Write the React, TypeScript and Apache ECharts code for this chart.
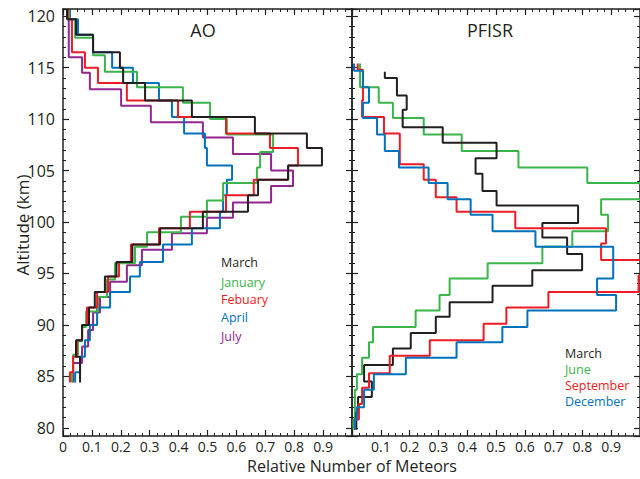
import React, { useEffect, useRef } from 'react';
import * as echarts from 'echarts';

// ---- AO panel (altitude bin edges in km, top-down; values per bin) ----
const aoEdges = [120.6, 119.7, 118.2, 116.5, 115.0, 113.5, 111.8, 110.2, 108.6, 107.2, 105.5, 104.1, 102.6, 101.0, 99.4, 97.8, 96.1, 94.7, 93.2, 91.7, 90.0, 88.5, 86.9, 85.4, 84.4];
const aoGreenEdges = [120.6, 119.7, 117.9, 116.2, 114.6, 113.1, 111.6, 110.0, 108.5, 106.8, 105.3, 103.8, 102.1, 100.5, 99.0, 97.6, 96.0, 94.4, 92.7, 91.3, 89.8, 88.4, 87.1, 85.4, 84.4];
const aoPurpleEdges = [120.6, 116.0, 114.5, 112.9, 111.3, 109.7, 108.2, 106.6, 105.0, 103.5, 101.9, 100.4, 98.9, 97.3, 95.8, 94.2, 92.7, 91.2, 89.5, 87.9, 86.3, 84.4];

const aoMarch = [0.014, 0.045, 0.104, 0.197, 0.208, 0.284, 0.446, 0.664, 0.844, 0.896, 0.779, 0.675, 0.64, 0.484, 0.336, 0.24, 0.185, 0.145, 0.11, 0.09, 0.066, 0.045, 0.059, 0.059];
const aoJanuary = [0.02, 0.042, 0.104, 0.145, 0.256, 0.415, 0.509, 0.567, 0.727, 0.682, 0.671, 0.554, 0.498, 0.408, 0.291, 0.249, 0.18, 0.152, 0.121, 0.08, 0.066, 0.052, 0.035, 0.031];
const aoFebruary = [0.017, 0.031, 0.031, 0.076, 0.121, 0.221, 0.398, 0.564, 0.716, 0.813, 0.779, 0.66, 0.564, 0.439, 0.332, 0.235, 0.194, 0.156, 0.118, 0.083, 0.066, 0.048, 0.035, 0.024];
const aoApril = [0.024, 0.052, 0.104, 0.17, 0.242, 0.332, 0.377, 0.419, 0.491, 0.498, 0.585, 0.567, 0.554, 0.543, 0.446, 0.346, 0.266, 0.232, 0.163, 0.118, 0.093, 0.076, 0.059, 0.042];
const aoJuly = [0.02, 0.066, 0.093, 0.201, 0.304, 0.484, 0.588, 0.72, 0.796, 0.72, 0.588, 0.498, 0.377, 0.273, 0.221, 0.163, 0.128, 0.104, 0.087, 0.066, 0.035];

// ---- PFISR panel ----
const pfEdges = [115.4, 114.7, 113.1, 111.6, 110.1, 108.5, 106.9, 105.3, 103.8, 102.2, 100.7, 99.1, 97.6, 96.0, 94.5, 92.9, 91.4, 89.8, 88.3, 86.8, 85.2, 83.7, 82.0, 80.8, 79.8];
const pfRedEdges = [115.4, 114.8, 113.3, 111.8, 110.2, 108.6, 107.2, 105.6, 104.1, 102.4, 101.0, 99.4, 97.9, 96.3, 94.8, 93.2, 91.7, 90.1, 88.5, 87.0, 85.3, 83.9, 82.3, 80.8, 79.8];
const pfBlackEdges = [114.6, 114.0, 112.3, 110.9, 109.2, 107.7, 106.2, 104.7, 103.0, 101.6, 99.9, 98.5, 96.9, 95.3, 93.8, 92.2, 90.8, 89.2, 87.7, 86.1, 84.5, 83.0, 81.5, 79.8];

const pfMarch = [0.114, 0.156, 0.19, 0.176, 0.315, 0.502, 0.429, 0.453, 0.502, 0.785, 0.661, 0.747, 0.799, 0.626, 0.488, 0.339, 0.291, 0.204, 0.142, 0.042, 0.069, 0.021, 0.015];
const pfJune = [0.028, 0.028, 0.093, 0.142, 0.249, 0.381, 0.578, 0.817, 1.05, 0.865, 0.889, 0.765, 0.661, 0.471, 0.339, 0.304, 0.221, 0.073, 0.059, 0.035, 0.017, 0.01, 0.01, 0.005];
const pfSeptember = [0.02, 0.038, 0.038, 0.035, 0.111, 0.166, 0.166, 0.249, 0.291, 0.363, 0.567, 0.882, 0.865, 1.05, 0.995, 0.682, 0.536, 0.457, 0.27, 0.131, 0.059, 0.035, 0.024, 0.01];
const pfDecember = [0.007, 0.038, 0.059, 0.038, 0.087, 0.114, 0.163, 0.266, 0.332, 0.412, 0.488, 0.637, 0.907, 0.907, 0.851, 0.917, 0.609, 0.522, 0.363, 0.187, 0.076, 0.042, 0.017, 0.01];

const aoLegend = ['March', 'January', 'Febuary', 'April', 'July'];
const pfLegend = ['March', 'June', 'September', 'December'];

const BLACK = '#231f20';
const GREEN = '#39b54a';
const RED = '#ed1c24';
const BLUE = '#0072bc';
const PURPLE = '#92278f';
const FONT = '"Open Sans", "Noto Sans", sans-serif';

function steps(edges: number[], values: number[]) {
  const pts: number[][] = [];
  for (let i = 0; i < values.length; i++) {
    pts.push([values[i], edges[i]]);
    pts.push([values[i], edges[i + 1]]);
  }
  return pts;
}

function xAx(grid: number, pos: 'bottom' | 'top', labels: boolean, hideMin: boolean) {
  return {
    type: 'value', gridIndex: grid, position: pos, min: 0, max: 1, interval: 0.1,
    axisLine: { show: true, onZero: false, lineStyle: { color: BLACK, width: 1.5 } },
    axisTick: { show: true, inside: true, length: 6, lineStyle: { color: BLACK, width: 1.2 } },
    minorTick: { show: true, splitNumber: 4, length: 3, lineStyle: { color: BLACK, width: 1 } },
    splitLine: { show: false },
    axisLabel: {
      show: labels, color: BLACK, fontSize: 14, fontFamily: FONT, margin: 3,
      showMinLabel: !hideMin, showMaxLabel: false,
      formatter: (v: number) => (v === 0 ? '0' : v.toFixed(1)),
    },
  };
}

function yAx(grid: number, pos: 'left' | 'right', labels: boolean) {
  return {
    type: 'value', gridIndex: grid, position: pos, min: 79.2, max: 120.7, minInterval: 5, maxInterval: 5,
    axisLine: { show: true, onZero: false, lineStyle: { color: BLACK, width: 1.5 } },
    axisTick: { show: true, inside: true, length: 6, lineStyle: { color: BLACK, width: 1.2 } },
    minorTick: { show: true, splitNumber: 5, length: 3, lineStyle: { color: BLACK, width: 1 } },
    splitLine: { show: false },
    axisLabel: { show: labels, color: BLACK, fontSize: 16, fontFamily: FONT, margin: 8, showMinLabel: false, showMaxLabel: false },
  };
}

function line(name: string, data: number[][], color: string, xi: number, yi: number) {
  return {
    name, type: 'line', data, xAxisIndex: xi, yAxisIndex: yi,
    showSymbol: false, symbol: 'none', clip: true,
    lineStyle: { color, width: 2 }, itemStyle: { color },
  };
}

export default function App() {
  const ref = useRef<HTMLDivElement>(null);
  useEffect(() => {
    if (!ref.current) return;
    const chart = echarts.init(ref.current, undefined, { renderer: 'svg' });
    const aoColors = [BLACK, GREEN, RED, BLUE, PURPLE];
    const pfColors = [BLACK, GREEN, RED, BLUE];
    const aoY = [262, 282, 299, 317, 336];
    const pfY = [353, 369, 385, 401];
    const legendTexts: any[] = [];
    aoLegend.forEach((t, i) => legendTexts.push({
      type: 'text', x: 221, y: aoY[i],
      style: { text: t, fill: aoColors[i], fontSize: 12.5, lineHeight: 14, fontFamily: FONT, textAlign: 'left', textVerticalAlign: 'middle' },
    }));
    pfLegend.forEach((t, i) => legendTexts.push({
      type: 'text', x: 565, y: pfY[i],
      style: { text: t, fill: pfColors[i], fontSize: 12.5, lineHeight: 14, fontFamily: FONT, textAlign: 'left', textVerticalAlign: 'middle' },
    }));
    chart.setOption({
      animation: false,
      backgroundColor: '#ffffff',
      grid: [
        { left: 63, top: 9, width: 289, height: 427, containLabel: false },
        { left: 352, top: 9, width: 289, height: 427, containLabel: false },
      ],
      xAxis: [
        xAx(0, 'bottom', true, false),
        xAx(0, 'top', false, false),
        xAx(1, 'bottom', true, true),
        xAx(1, 'top', false, false),
      ],
      yAxis: [
        yAx(0, 'left', true),
        yAx(0, 'right', false),
        yAx(1, 'left', false),
        yAx(1, 'right', false),
      ],
      series: [
        line('AO July', steps(aoPurpleEdges, aoJuly), PURPLE, 0, 0),
        line('AO April', steps(aoEdges, aoApril), BLUE, 0, 0),
        line('AO January', steps(aoGreenEdges, aoJanuary), GREEN, 0, 0),
        line('AO Febuary', steps(aoEdges, aoFebruary), RED, 0, 0),
        line('AO March', steps(aoEdges, aoMarch), BLACK, 0, 0),
        line('PFISR June', steps(pfEdges, pfJune), GREEN, 2, 2),
        line('PFISR March', steps(pfBlackEdges, pfMarch), BLACK, 2, 2),
        line('PFISR September', steps(pfRedEdges, pfSeptember), RED, 2, 2),
        line('PFISR December', steps(pfEdges, pfDecember), BLUE, 2, 2),
      ],
      graphic: [
        { type: 'text', x: 203, y: 30, style: { text: 'AO', fill: BLACK, fontSize: 18, fontFamily: FONT, textAlign: 'center', textVerticalAlign: 'middle' } },
        { type: 'text', x: 490, y: 30, style: { text: 'PFISR', fill: BLACK, fontSize: 18, fontFamily: FONT, textAlign: 'center', textVerticalAlign: 'middle' } },
        { type: 'text', x: 352, y: 466, style: { text: 'Relative Number of Meteors', fill: BLACK, fontSize: 16, fontFamily: FONT, textAlign: 'center', textVerticalAlign: 'middle' } },
        { type: 'text', x: 22, y: 225, rotation: Math.PI / 2, style: { text: 'Altitude (km)', fill: BLACK, fontSize: 17, fontFamily: FONT, textAlign: 'center', textVerticalAlign: 'middle' } },
        ...legendTexts,
      ],
    });
    return () => chart.dispose();
  }, []);
  return <div ref={ref} style={{ position: 'fixed', left: 0, top: 0, width: 640, height: 479, background: '#fff' }} />;
}
